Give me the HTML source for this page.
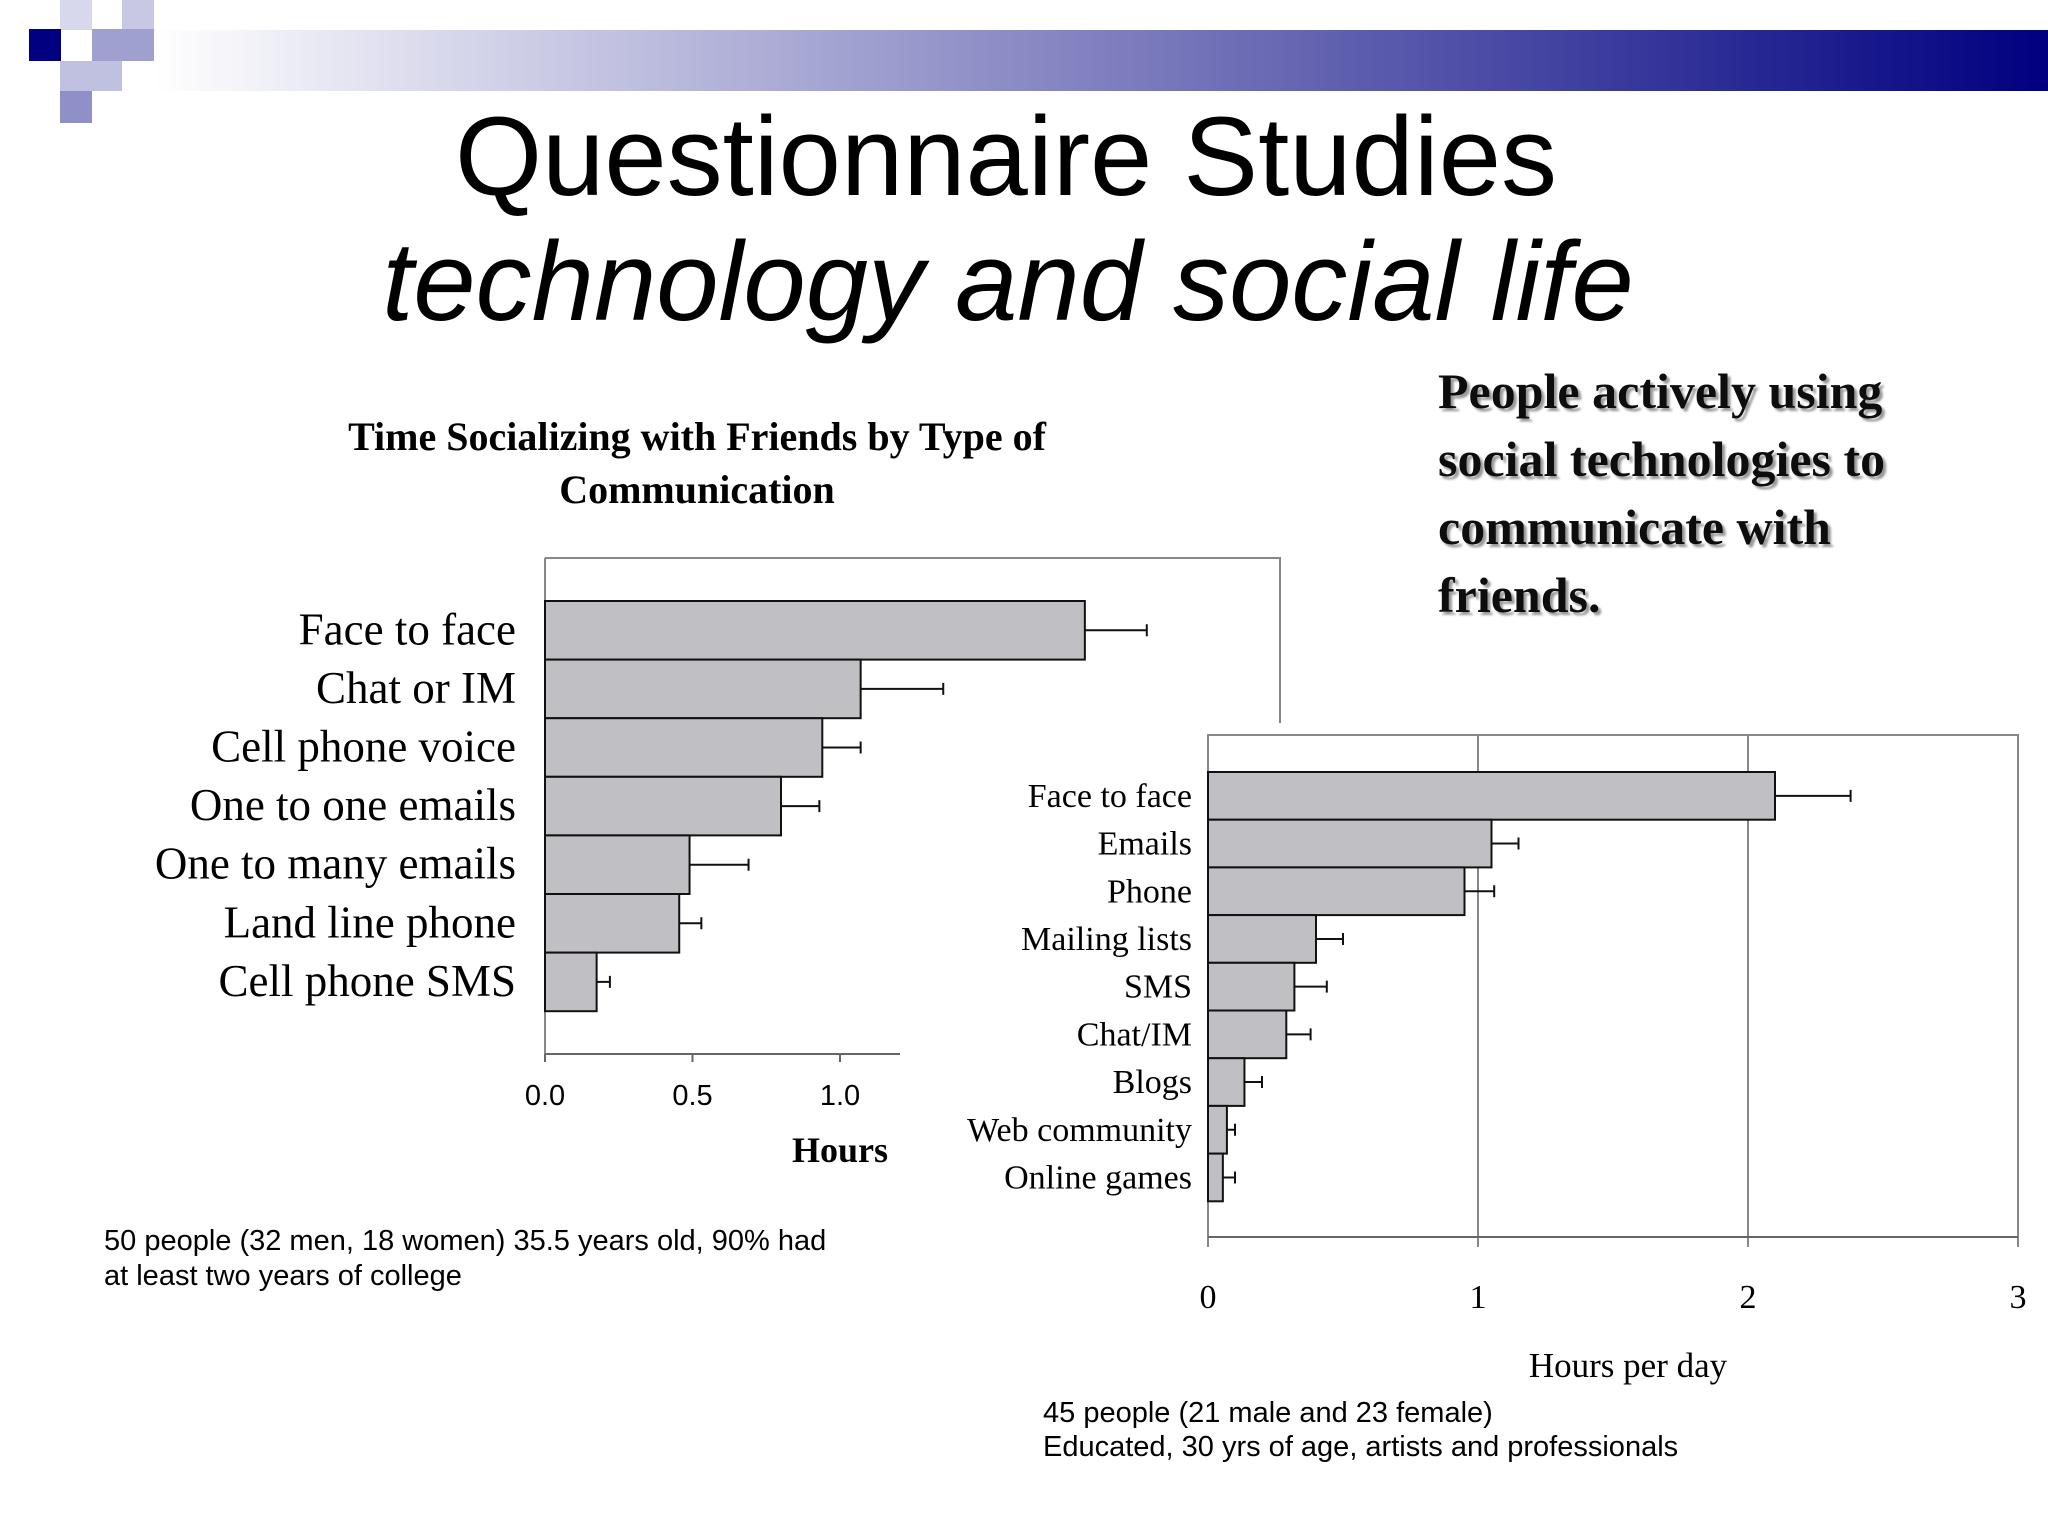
<!DOCTYPE html>
<html><head><meta charset="utf-8"><style>
html,body{margin:0;padding:0;background:#fff;}
svg{display:block;}
.serif{font-family:"Liberation Serif",serif;}
.sans{font-family:"Liberation Sans",sans-serif;}
</style></head><body>
<svg width="2048" height="1536" viewBox="0 0 2048 1536" xmlns="http://www.w3.org/2000/svg">
<defs>
<linearGradient id="hg" x1="0" x2="1" y1="0" y2="0"><stop offset="0" stop-color="#ffffff"/><stop offset="1" stop-color="#000080"/></linearGradient>
<filter id="sh"><feDropShadow dx="3" dy="3" stdDeviation="1" flood-color="#999"/></filter>
</defs>
<g>
<rect x="154" y="30" width="1894" height="61" fill="url(#hg)"/>
<rect x="60" y="0" width="32" height="30" fill="#d8d8ec"/>
<rect x="122" y="0" width="32" height="30" fill="#c8c8e4"/>
<rect x="29" y="29" width="32" height="32" fill="#000080"/>
<rect x="92" y="29" width="62" height="32" fill="#a0a0d0"/>
<rect x="60" y="61" width="62" height="30" fill="#c0c0e0"/>
<rect x="60" y="91" width="32" height="32" fill="#9090c8"/>
</g>
<text class="sans" x="1006" y="195" font-size="112" text-anchor="middle">Questionnaire Studies</text>
<text class="sans" x="1008" y="320" font-size="112" font-style="italic" text-anchor="middle">technology and social life</text>
<g class="serif" font-weight="bold" font-size="50" fill="#111" filter="url(#sh)">
<text x="1438" y="408">People actively using</text>
<text x="1438" y="476">social technologies to</text>
<text x="1438" y="544">communicate with</text>
<text x="1438" y="612">friends.</text>
</g>
<g class="serif" font-weight="bold" font-size="40" text-anchor="middle">
<text x="697" y="450">Time Socializing with Friends by Type of</text>
<text x="697" y="503">Communication</text>
</g>
<g id="left"></g>
<g id="right"></g>
<g class="sans" font-size="29">
<text x="104" y="1250">50 people (32 men, 18 women) 35.5 years old, 90% had</text>
<text x="104" y="1285">at least two years of college</text>
</g>
<g class="sans" font-size="29">
<text x="1043" y="1422">45 people (21 male and 23 female)</text>
<text x="1043" y="1456">Educated, 30 yrs of age, artists and professionals</text>
</g>
</svg>
<script>
const leftCats=["Face to face","Chat or IM","Cell phone voice","One to one emails","One to many emails","Land line phone","Cell phone SMS"];
const leftVals=[1.83,1.07,0.94,0.80,0.49,0.455,0.175];
const leftErrs=[2.04,1.35,1.07,0.93,0.69,0.53,0.22];
const leftTicks=["0.0","0.5","1.0"];
const rightCats=["Face to face","Emails","Phone","Mailing lists","SMS","Chat/IM","Blogs","Web community","Online games"];
const rightVals=[2.10,1.05,0.95,0.40,0.32,0.29,0.135,0.07,0.055];
const rightErrs=[2.38,1.15,1.06,0.50,0.44,0.38,0.20,0.10,0.10];
const rightTicks=["0","1","2","3"];
const NS="http://www.w3.org/2000/svg";
function mk(parent,tag,attrs,txt){const e=document.createElementNS(NS,tag);for(const k in attrs)e.setAttribute(k,attrs[k]);if(txt!==undefined)e.textContent=txt;parent.appendChild(e);return e;}
// left chart
(function(){
const g=document.getElementById('left');
const x0=545,unit=295,top=601,rowH=58.6,axisY=1054;
const xs=v=>x0+v*unit;
let e=mk(g,'path',{d:'M545 558 H1280 V723',fill:'none',stroke:'#888','stroke-width':2});


e=mk(g,'line',{x1:545,y1:558,x2:545,y2:axisY,stroke:'#888','stroke-width':2});


e=mk(g,'line',{x1:545,y1:axisY,x2:900,y2:axisY,stroke:'#666','stroke-width':2});


leftTicks.forEach((t,i)=>{const x=xs(parseFloat(t));
mk(g,'line',{x1:x,y1:axisY,x2:x,y2:axisY+8,stroke:'#666','stroke-width':2});
const l=mk(g,'text',{x:x,y:1105,'text-anchor':'middle','font-size':29,'font-family':'Liberation Sans, sans-serif'},t);

});
const ht=mk(g,'text',{x:840,y:1162,'text-anchor':'middle','font-size':36,'font-weight':'bold','font-family':'Liberation Serif, serif'},'Hours');


leftCats.forEach((c,i)=>{const y=top+i*rowH;
const b=mk(g,'rect',{x:x0,y:y,width:xs(leftVals[i])-x0,height:rowH,fill:'#c0bfc3',stroke:'#111','stroke-width':2});


const cy=y+rowH/2;
const eb=mk(g,'path',{d:`M${xs(leftVals[i])} ${cy} H${xs(leftErrs[i])} M${xs(leftErrs[i])} ${cy-6} V${cy+6}`,stroke:'#111','stroke-width':2,fill:'none'});


const l=mk(g,'text',{x:516,y:cy+14,'text-anchor':'end','font-size':45,'font-family':'Liberation Serif, serif'},c);

});
})();
// right chart
(function(){
const g=document.getElementById('right');
const x0=1208,unit=270,top=772,rowH=47.7,boxT=735,boxB=1237;
const xs=v=>x0+v*unit;
const bg=mk(g,'rect',{x:x0,y:boxT,width:3*unit,height:boxB-boxT,fill:'#fff',stroke:'#888','stroke-width':2});


rightTicks.forEach((t,i)=>{const x=xs(parseFloat(t));
const gl=mk(g,'line',{x1:x,y1:boxT,x2:x,y2:boxB+10,stroke:'#888','stroke-width':2});


const l=mk(g,'text',{x:x,y:1308,'text-anchor':'middle','font-size':34,'font-family':'Liberation Serif, serif'},t);

});
const ax=mk(g,'line',{x1:x0,y1:boxB,x2:xs(3),y2:boxB,stroke:'#666','stroke-width':2});


const ht=mk(g,'text',{x:1628,y:1377,'text-anchor':'middle','font-size':35,'font-family':'Liberation Serif, serif'},'Hours per day');


rightCats.forEach((c,i)=>{const y=top+i*rowH;
const b=mk(g,'rect',{x:x0,y:y,width:xs(rightVals[i])-x0,height:rowH,fill:'#c0bfc3',stroke:'#111','stroke-width':2});


const cy=y+rowH/2;
const eb=mk(g,'path',{d:`M${xs(rightVals[i])} ${cy} H${xs(rightErrs[i])} M${xs(rightErrs[i])} ${cy-6} V${cy+6}`,stroke:'#111','stroke-width':2,fill:'none'});


const l=mk(g,'text',{x:1192,y:cy+11,'text-anchor':'end','font-size':34,'font-family':'Liberation Serif, serif'},c);

});
})();
</script>
</body></html>
